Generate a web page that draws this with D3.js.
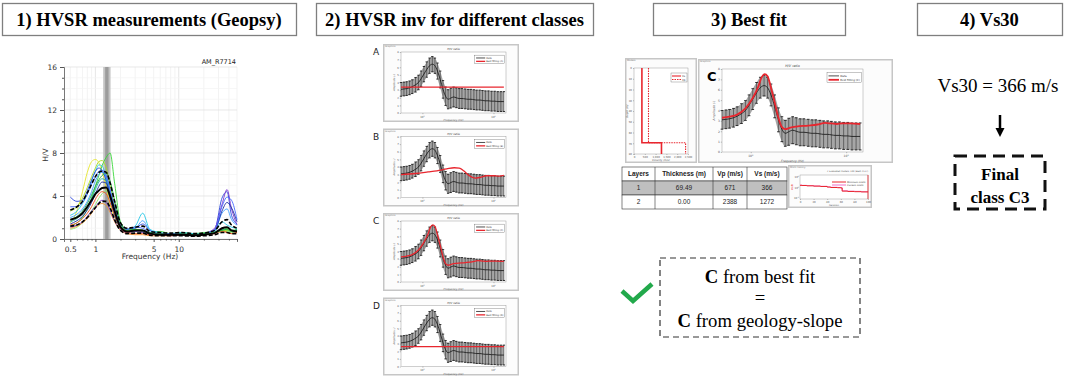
<!DOCTYPE html>
<meta charset="utf-8">
<style>
body { margin: 0; background: #fff; }
svg { display: block; }
text { font-family: "DejaVu Sans", sans-serif; }
.title { font: bold 18.5px "Liberation Serif", serif; }
.big { font: 18.7px "Liberation Serif", serif; }
.bigb { font: bold 17px "Liberation Serif", serif; }
.cell { font-family: "Liberation Sans", sans-serif; font-size: 6.5px; fill: #222; }
</style>
<body>
<script src="https://d3js.org/d3.v7.min.js"></script>
<script>

// ---------- data ----------
const titles = ["1) HVSR measurements (Geopsy)", "2) HVSR inv for different classes", "3) Best fit", "4) Vs30"];

// 1) Geopsy H/V curves
const geoFreq = [0.5,0.6,0.7,0.8,0.9,1.0,1.1,1.2,1.35,1.5,1.7,2.0,2.4,3.0,3.7,4.5,6,8,11,15,20,27,33,38,43,50];
const geoCurves = [
  [1.5,2.6,4.4,6.2,7.2,7.4,7.1,6.3,4.8,3.2,1.8,1.0,0.8,0.8,0.7,0.6,0.5,0.5,0.5,0.4,0.5,0.6,0.8,0.9,0.7,0.8],
  [1.2,1.5,2.0,2.8,3.8,4.9,5.9,6.8,7.6,8.0,5.2,1.6,0.9,0.9,0.8,0.6,0.7,0.5,0.6,0.5,0.6,0.7,0.8,1.0,0.8,0.9],
  [2.2,2.6,3.3,4.2,5.4,6.3,6.9,6.8,5.6,3.8,2.2,1.1,0.9,1.2,2.4,0.9,0.6,0.5,0.6,0.5,0.5,0.7,1.6,1.3,1.1,1.0],
  [3.9,3.5,3.6,4.5,5.5,6.3,6.6,6.4,5.4,3.9,2.2,1.2,0.9,1.0,1.4,0.8,0.5,0.4,0.4,0.4,0.5,0.9,3.8,4.4,2.2,1.4],
  [0.9,1.1,1.5,2.0,2.6,3.2,3.8,4.2,4.5,4.0,2.8,1.3,0.8,0.7,0.6,0.5,0.4,0.4,0.5,0.4,0.5,0.6,0.7,0.7,0.6,0.7],
  [1.0,1.2,1.5,1.9,2.4,2.9,3.2,3.3,3.1,2.5,1.6,0.8,0.5,0.4,0.4,0.3,0.3,0.3,0.4,0.3,0.4,0.6,0.9,0.6,0.5,0.6],
  [1.1,1.3,1.6,2.1,2.6,3.0,3.4,3.6,3.4,2.7,1.7,0.9,0.6,0.7,0.6,0.4,0.4,0.3,0.4,0.3,0.5,1.0,3.2,4.6,2.8,1.3],
  [1.6,1.9,2.4,3.0,3.8,4.6,5.3,5.6,5.4,4.4,2.9,1.3,0.8,0.9,0.8,0.6,0.5,0.4,0.5,0.4,0.5,0.6,0.9,0.8,0.7,0.9],
  [2.0,2.3,2.8,3.5,4.4,5.4,6.0,6.2,5.8,4.5,3.0,1.3,0.9,1.0,1.7,0.8,0.5,0.4,0.5,0.4,0.5,0.8,2.4,2.8,1.8,1.3],
  [1.4,1.7,2.1,2.7,3.4,4.2,4.9,5.3,5.2,4.2,2.8,1.2,0.7,0.8,0.7,0.5,0.4,0.4,0.4,0.4,0.5,0.8,2.6,3.4,2.9,1.6],
  [1.3,1.5,1.9,2.4,3.0,3.7,4.2,4.4,4.2,3.4,2.2,1.0,0.6,0.5,0.5,0.4,0.4,0.3,0.4,0.3,0.4,0.5,0.7,0.6,0.5,0.6],
  [2.6,3.0,3.8,4.8,5.8,6.6,7.2,7.3,6.6,5.0,3.2,1.4,0.8,0.9,0.8,0.6,0.5,0.5,0.5,0.4,0.5,0.6,0.8,0.8,0.7,0.8],
  [3.0,3.0,3.4,4.2,5.1,5.8,6.3,6.4,5.9,4.6,3.0,1.4,0.9,1.1,1.0,0.6,0.5,0.5,0.5,0.4,0.5,0.8,3.0,3.9,3.6,1.8],
  [1.8,2.1,2.6,3.3,4.1,4.9,5.5,5.9,6.1,5.4,3.6,1.5,0.8,0.9,0.8,0.6,0.5,0.4,0.5,0.4,0.5,0.6,0.8,0.9,0.7,0.8]
];
const geoColors = ["#e6e62e","#39d639","#27c6e6","#2a46dc","#8ee86a","#f0902e","#7a36cc",
                   "#1fb0a0","#3a9cff","#1c2c9c","#ee5522","#a8dc22","#4468ff","#22a848"];
const geoMean  = [1.8,2.0,2.4,3.0,3.6,4.2,4.5,4.75,4.8,4.0,2.6,1.1,0.7,0.8,0.8,0.5,0.4,0.4,0.4,0.35,0.4,0.55,1.0,1.1,0.8,0.7];
const geoUpper = [2.7,3.0,3.5,4.3,5.1,5.8,6.2,6.3,6.2,5.2,3.5,1.5,1.0,1.1,1.2,0.7,0.6,0.55,0.6,0.5,0.55,0.8,1.6,1.8,1.3,1.0];
const geoLower = [1.2,1.3,1.6,2.0,2.5,2.9,3.3,3.5,3.5,2.9,1.8,0.8,0.5,0.55,0.55,0.35,0.3,0.3,0.3,0.25,0.3,0.4,0.6,0.6,0.5,0.5];
const peakBand = [1.24, 1.52];

// 2) inversion: observed H/V (mean, std) and model curves per class
const invFreq = [0.5,0.55,0.6,0.66,0.72,0.8,0.88,0.96,1.05,1.15,1.26,1.38,1.5,1.63,1.78,1.95,2.12,2.3,2.5,
                 2.75,3.0,3.3,3.6,4.0,4.4,4.8,5.3,5.8,6.4,7.0,7.7,8.5,9.4,10.4,11.5,12.7,14.0];
const invMean = [3.1,3.15,3.2,3.3,3.45,3.7,4.0,4.5,5.1,5.7,6.2,6.4,6.2,5.5,4.4,3.1,2.2,1.8,1.95,
                 2.1,2.0,1.9,1.9,1.85,1.8,1.8,1.75,1.7,1.7,1.65,1.6,1.6,1.55,1.55,1.5,1.5,1.5];
const invStd  = [0.9,0.9,0.9,0.9,0.9,0.95,0.95,1.0,1.0,1.0,1.0,1.0,1.0,1.05,1.1,1.15,1.2,1.25,1.3,
                 1.3,1.3,1.3,1.3,1.3,1.3,1.3,1.3,1.3,1.3,1.3,1.3,1.3,1.3,1.3,1.3,1.3,1.3];
const classes = ["A","B","C","D"];
const modelFreq = [
  [0.5, 14],
  [0.5,0.8,1.2,1.6,2.2,2.8,3.3,3.8,4.5,5.5,6.5,8,10,12,14],
  [0.5,0.6,0.72,0.88,1.05,1.2,1.3,1.4,1.5,1.63,1.78,1.95,2.12,2.3,2.6,3,4,5,6,7,8,9,11,14],
  [0.5, 14]
];
const modelHV = [
  [3.4, 3.4],
  [3.0,3.15,3.35,3.5,3.75,3.9,3.85,3.5,2.9,2.55,2.65,2.85,2.85,2.8,2.9],
  [3.3,3.4,3.6,4.2,5.2,6.3,7.2,7.5,7.3,6.2,4.8,3.3,2.4,2.2,2.35,2.45,2.55,2.65,2.8,2.75,2.7,2.75,2.75,2.7],
  [2.6, 2.6]
];

// 3) best-fit model
const tableHead = ["Layers", "Thickness (m)", "Vp (m/s)", "Vs (m/s)"];
const layerNo = ["1", "2"];
const thickness = ["69.49", "0.00"];
const vpLayer = [671, 2388];
const vsLayer = [366, 1272];
const misfitIter = [0,3,10,20,30,40,45,55,60,62,70,80,90,100];
const misfitMin  = [1.6,1.55,1.45,1.35,1.25,1.1,1.0,0.95,0.9,0.45,0.42,0.4,0.38,0.37];
const misfitCur  = [1.7,1.6,1.5,1.4,1.3,1.15,1.05,1.0,0.95,0.5,0.45,0.43,0.4,0.4];

// 4) Vs30
const vs30 = 366;
const finalClass = "C3";

// ---------- drawing ----------
const width = 1065, height = 377;
const svg = d3.select("body").append("svg").attr("width", width).attr("height", height);

const titleX = [[2, 296], [316, 593], [653, 845], [917, 1062]];
titles.forEach((t, i) => {
  const [a, b] = titleX[i];
  svg.append("rect").attr("x", a + 0.5).attr("y", 3.5).attr("width", b - a).attr("height", 32)
     .attr("fill", "#fff").attr("stroke", "#7f7f7f").attr("stroke-width", 1.3);
  svg.append("text").attr("class", "title").attr("x", (a + b) / 2).attr("y", 26)
     .attr("text-anchor", "middle").text(t);
});

// ----- panel 1 : Geopsy -----
function geopsy() {
  const x = d3.scaleLog().domain([0.42, 50]).range([64, 237]);
  const y = d3.scaleLinear().domain([0, 16]).range([239, 67]);
  const g = svg.append("g");

  g.append("g").selectAll("line").data(x.ticks()).join("line")
    .attr("x1", d => x(d)).attr("x2", d => x(d)).attr("y1", 67).attr("y2", 239)
    .attr("stroke", d => [1, 10].includes(d) ? "#dcdcdc" : "#eeeeee").attr("stroke-width", 0.7);
  g.append("g").selectAll("line").data(y.ticks(16)).join("line")
    .attr("x1", 64).attr("x2", 237).attr("y1", d => y(d)).attr("y2", d => y(d))
    .attr("stroke", d => d % 4 ? "#f3f3f3" : "#dedede").attr("stroke-width", 0.7);

  g.append("rect").attr("x", x(peakBand[0])).attr("width", x(peakBand[1]) - x(peakBand[0]))
    .attr("y", 67).attr("height", 172).attr("fill", "#c4c4c4");
  g.append("rect").attr("x", x(peakBand[0]) + 2).attr("width", x(peakBand[1]) - x(peakBand[0]) - 4)
    .attr("y", 67).attr("height", 172).attr("fill", "#9c9c9c");

  const line = d3.line().x((d, i) => x(geoFreq[i])).y(d => y(d)).curve(d3.curveMonotoneX);
  g.append("g").attr("fill", "none").attr("stroke-width", 1).attr("stroke-opacity", 0.9)
    .selectAll("path").data(geoCurves).join("path")
      .attr("d", line).attr("stroke", (d, i) => geoColors[i]);
  g.append("path").attr("d", line(geoMean)).attr("fill", "none").attr("stroke", "#000").attr("stroke-width", 2);
  [geoUpper, geoLower].forEach(c => g.append("path").attr("d", line(c)).attr("fill", "none")
    .attr("stroke", "#000").attr("stroke-width", 1.6).attr("stroke-dasharray", "4,2"));

  // axes
  const ya = g.append("g").attr("transform", "translate(64,0)")
    .call(d3.axisLeft(y).ticks(16).tickSize(4).tickFormat(d => d % 4 ? "" : d));
  ya.selectAll(".tick line").attr("x2", d => d % 4 ? -2 : -4);
  const xa = g.append("g").attr("transform", "translate(0,239)")
    .call(d3.axisBottom(x).tickValues(x.ticks()).tickSize(3)
      .tickFormat(d => [0.5, 1, 5, 10].includes(d) ? d : ""));
  xa.selectAll(".tick line").attr("y2", d => [0.5, 1, 5, 10].includes(d) ? 3 : 1.5);
  [ya, xa].forEach(a => {
    a.select(".domain").attr("stroke", "#555").attr("stroke-width", 0.8);
    a.selectAll(".tick line").attr("stroke", "#555");
    a.selectAll("text").attr("font-size", 7.5).attr("fill", "#333");
  });
  xa.selectAll("text").attr("dy", "0.95em");

  g.append("text").attr("transform", "translate(48,155) rotate(-90)").attr("text-anchor", "middle")
    .attr("font-size", 7.5).attr("fill", "#333").text("H/V");
  g.append("text").attr("x", 150).attr("y", 259).attr("text-anchor", "middle")
    .attr("font-size", 7.5).attr("fill", "#333").text("Frequency (Hz)");
  g.append("text").attr("x", 236).attr("y", 64).attr("text-anchor", "end")
    .attr("font-size", 6.5).attr("fill", "#222").text("AM_R7714");
}
geopsy();

// ----- H/V inversion window -----
function hvWindow(fx, fy, fw, fh, m, k, fs, lw) {
  const g = svg.append("g").attr("transform", `translate(${fx},${fy})`);
  g.append("rect").attr("x", 0.75).attr("y", 0.75).attr("width", fw - 1.5).attr("height", fh - 1.5)
    .attr("fill", "#fcfcfc").attr("stroke", "#c6c6c6").attr("stroke-width", 1.5);
  g.append("text").attr("x", 2).attr("y", 3).attr("font-size", 2.4).attr("fill", "#777").text("Graphics");

  const x = d3.scaleLog().domain([0.5, 15]).range([m.l, fw - m.r]);
  const y = d3.scaleLinear().domain([0, 8]).range([fh - m.b, m.t]);
  g.append("rect").attr("x", m.l).attr("y", m.t).attr("width", fw - m.l - m.r).attr("height", fh - m.t - m.b)
    .attr("fill", "#fff").attr("stroke", "#888").attr("stroke-width", 0.4);

  const pts = invFreq.map((f, i) => ({ f, m: invMean[i], s: invStd[i] }));
  g.append("path").datum(pts).attr("fill", "#a6a6a6")
    .attr("d", d3.area().x(d => x(d.f)).y0(d => y(d.m - d.s)).y1(d => y(d.m + d.s)).curve(d3.curveMonotoneX));
  const eb = g.append("g").attr("stroke", "#1c1c1c").attr("stroke-width", 0.5);
  eb.selectAll(".v").data(pts).join("line").attr("class", "v")
    .attr("x1", d => x(d.f)).attr("x2", d => x(d.f)).attr("y1", d => y(d.m - d.s)).attr("y2", d => y(d.m + d.s));
  const cw = fs * 0.45;
  ["u", "l"].forEach(side => {
    const yv = d => y(side === "u" ? d.m + d.s : d.m - d.s);
    eb.selectAll(".c" + side).data(pts).join("line").attr("class", "c" + side)
      .attr("x1", d => x(d.f) - cw).attr("x2", d => x(d.f) + cw)
      .attr("y1", yv).attr("y2", yv).attr("stroke-width", 0.9);
  });
  const ln = d3.line().x(d => x(d.f)).y(d => y(d.v)).curve(d3.curveMonotoneX);
  g.append("path").attr("d", ln(pts.map(d => ({ f: d.f, v: d.m }))))
    .attr("fill", "none").attr("stroke", "#111").attr("stroke-width", 0.8);
  g.append("path").attr("d", ln(modelFreq[k].map((f, i) => ({ f, v: modelHV[k][i] }))))
    .attr("fill", "none").attr("stroke", "#e8262e").attr("stroke-width", lw);

  // ticks
  const ay = g.append("g").attr("transform", `translate(${m.l},0)`)
    .call(d3.axisLeft(y).ticks(8).tickSize(1.2).tickPadding(1));
  const ax = g.append("g").attr("transform", `translate(0,${fh - m.b})`)
    .call(d3.axisBottom(x).tickValues([1, 10]).tickSize(1.2).tickFormat(""));
  [ay, ax].forEach(a => {
    a.select(".domain").remove();
    a.selectAll("line").attr("stroke", "#666").attr("stroke-width", 0.4);
    a.selectAll("text").attr("font-size", fs).attr("fill", "#555");
  });
  [1, 10].forEach((v, i) => {
    const t = g.append("text").attr("x", x(v)).attr("y", fh - m.b + fs * 1.8)
      .attr("text-anchor", "middle").attr("font-size", fs).attr("fill", "#555").text("10");
    t.append("tspan").attr("font-size", fs * 0.7).attr("dy", -fs * 0.4).text(i);
  });
  const cx = (m.l + fw - m.r) / 2;
  g.append("text").attr("x", cx).attr("y", m.t - fs * 0.6).attr("text-anchor", "middle")
    .attr("font-size", fs * 1.1).attr("font-family", "Liberation Serif").attr("font-style", "italic")
    .attr("fill", "#333").text("H/V ratio");
  g.append("text").attr("x", cx).attr("y", fh - m.b + fs * 3.2).attr("text-anchor", "middle")
    .attr("font-size", fs).attr("font-style", "italic").attr("fill", "#555").text("Frequency (Hz)");
  g.append("text").attr("transform", `translate(${m.l - fs * 2.4},${(m.t + fh - m.b) / 2}) rotate(-90)`)
    .attr("text-anchor", "middle").attr("font-size", fs).attr("font-style", "italic")
    .attr("fill", "#555").text("Amplitude (-)");

  // legend
  const lx = fw - m.r - fs * 12, ly = m.t + fs * 1.2;
  const lg = g.append("g").attr("transform", `translate(${lx},${ly})`);
  lg.append("rect").attr("width", fs * 11.4).attr("height", fs * 3.3)
    .attr("fill", "#fff").attr("stroke", "#444").attr("stroke-width", 0.3);
  [["#222", "Data"], ["#e8262e", "Best fitting (" + classes[k] + ")"]].forEach(([c, t], i) => {
    const yy = fs * (1.1 + i * 1.3);
    lg.append("line").attr("x1", fs * 0.5).attr("x2", fs * 4).attr("y1", yy).attr("y2", yy)
      .attr("stroke", c).attr("stroke-width", i ? lw : 0.8);
    lg.append("text").attr("x", fs * 4.4).attr("y", yy + fs * 0.35).attr("font-size", fs * 0.9)
      .attr("fill", "#333").text(t);
  });
  return g;
}

const frameY = [44, 128.5, 213, 297.5];
classes.forEach((c, k) => {
  hvWindow(383, frameY[k], 136, 78, { l: 18, r: 13, t: 8, b: 9 }, k, 2.6, 1.3);
  svg.append("text").attr("x", 373).attr("y", frameY[k] + 11).attr("font-size", 9)
    .attr("font-family", "Liberation Sans").attr("fill", "#222").text(c);
});

// ----- panel 3 : best fit -----
const big = hvWindow(698, 59, 195, 104, { l: 24, r: 30, t: 10, b: 11 }, 2, 3, 1.8);
big.append("text").attr("x", 9).attr("y", 22).attr("font-size", 13).attr("font-weight", "bold")
  .attr("font-family", "Liberation Sans").attr("fill", "#000").text("C");

// model profile window
function profile() {
  const g = svg.append("g").attr("transform", "translate(625,58)");
  const fw = 72, fh = 105;
  g.append("rect").attr("x", 0.75).attr("y", 0.75).attr("width", fw - 1.5).attr("height", fh - 1.5)
    .attr("fill", "#fcfcfc").attr("stroke", "#c6c6c6").attr("stroke-width", 1.5);
  g.append("text").attr("x", 2).attr("y", 3).attr("font-size", 2.4).attr("fill", "#777").text("Models");
  const x = d3.scaleLinear().domain([0, 2500]).range([9, 63]);
  const y = d3.scaleLinear().domain([0, 80]).range([10, 96]);
  g.append("rect").attr("x", 9).attr("y", 10).attr("width", 54).attr("height", 86)
    .attr("fill", "#fff").attr("stroke", "#888").attr("stroke-width", 0.4);
  const depth = [0, +thickness[0], +thickness[0], 80];
  const stepPts = v => depth.map((d, i) => [v[i < 2 ? 0 : 1], d]);
  const ln = d3.line().x(d => x(d[0])).y(d => y(d[1]));
  g.append("path").attr("d", ln(stepPts(vpLayer))).attr("fill", "none").attr("stroke", "#e8262e")
    .attr("stroke-width", 1.1).attr("stroke-dasharray", "1.5,1");
  g.append("path").attr("d", ln(stepPts(vsLayer))).attr("fill", "none").attr("stroke", "#e8262e")
    .attr("stroke-width", 1.6);
  const ay = g.append("g").attr("transform", "translate(9,0)")
    .call(d3.axisLeft(y).ticks(8).tickSize(1).tickPadding(1));
  const ax = g.append("g").attr("transform", "translate(0,96)")
    .call(d3.axisBottom(x).ticks(5).tickSize(1).tickPadding(1));
  [ay, ax].forEach(a => {
    a.select(".domain").remove();
    a.selectAll("line").attr("stroke", "#666").attr("stroke-width", 0.4);
    a.selectAll("text").attr("font-size", 2.6).attr("fill", "#555");
  });
  g.append("text").attr("x", 36).attr("y", 103).attr("text-anchor", "middle").attr("font-size", 2.6)
    .attr("fill", "#555").attr("font-style", "italic").text("Velocity (m/s)");
  g.append("text").attr("transform", "translate(3,53) rotate(-90)").attr("text-anchor", "middle")
    .attr("font-size", 2.6).attr("fill", "#555").attr("font-style", "italic").text("Depth (m)");
  const lg = g.append("g").attr("transform", "translate(46,15)");
  lg.append("rect").attr("width", 16).attr("height", 9).attr("fill", "#fff").attr("stroke", "#444").attr("stroke-width", 0.3);
  [["", "Vs"], ["1.5,1", "Vp"]].forEach(([da, t], i) => {
    lg.append("line").attr("x1", 1).attr("x2", 10).attr("y1", 3 + i * 3.5).attr("y2", 3 + i * 3.5)
      .attr("stroke", "#e8262e").attr("stroke-width", 1.1).attr("stroke-dasharray", da || null);
    lg.append("text").attr("x", 11).attr("y", 4 + i * 3.5).attr("font-size", 2.6).attr("fill", "#333").text(t);
  });
}
profile();

// table
function table() {
  const colX = [622, 655, 713, 747, 787], rowY = [167, 181, 195, 209];
  const rows = [tableHead].concat(layerNo.map((l, i) => [l, thickness[i], vpLayer[i], vsLayer[i]]));
  const g = svg.append("g");
  rows.forEach((r, ri) => {
    g.append("rect").attr("x", colX[0]).attr("y", rowY[ri]).attr("width", colX[4] - colX[0])
      .attr("height", rowY[ri + 1] - rowY[ri]).attr("fill", ri === 1 ? "#bfbfbf" : "#fff")
      .attr("stroke", "#333").attr("stroke-width", 0.6);
    r.forEach((v, ci) => {
      g.append("text").attr("class", "cell")
        .attr("x", (colX[ci] + colX[ci + 1]) / 2).attr("y", (rowY[ri] + rowY[ri + 1]) / 2 + 2.3)
        .attr("text-anchor", "middle").style("font-weight", ri === 0 ? "bold" : "normal")
        .text(String(v));
    });
  });
  g.selectAll("line").data(colX.slice(1, 4)).join("line")
    .attr("x1", d => d).attr("x2", d => d).attr("y1", rowY[0]).attr("y2", rowY[3])
    .attr("stroke", "#333").attr("stroke-width", 0.6);
}
table();

// misfit history
function misfit() {
  const g = svg.append("g").attr("transform", "translate(788,165)");
  const fw = 84, fh = 43;
  g.append("rect").attr("x", 0.75).attr("y", 0.75).attr("width", fw - 1.5).attr("height", fh - 1.5)
    .attr("fill", "#fcfcfc").attr("stroke", "#c6c6c6").attr("stroke-width", 1.5);
  g.append("text").attr("x", 2).attr("y", 3).attr("font-size", 2.4).attr("fill", "#777").text("Misfit history");
  g.append("text").attr("x", 80).attr("y", 7).attr("text-anchor", "end").attr("font-size", 2.2)
    .attr("fill", "#555").text("# Evaluated models: 100 (Best: 0.37)");
  const x = d3.scaleLinear().domain([0, 100]).range([12, 80]);
  const y = d3.scaleLog().domain([0.1, 10]).range([33, 12]);
  g.append("rect").attr("x", 12).attr("y", 10).attr("width", 68).attr("height", 24)
    .attr("fill", "#fff").attr("stroke", "#888").attr("stroke-width", 0.4);
  const ln = d3.line().x((d, i) => x(misfitIter[i])).y(d => y(d)).curve(d3.curveStepAfter);
  g.append("path").attr("d", ln(misfitCur)).attr("fill", "none").attr("stroke", "#f06ec8").attr("stroke-width", 0.8);
  g.append("path").attr("d", ln(misfitMin)).attr("fill", "none").attr("stroke", "#e8262e").attr("stroke-width", 1);
  g.append("line").attr("x1", x(100)).attr("x2", x(100)).attr("y1", 10).attr("y2", 34)
    .attr("stroke", "#e8262e").attr("stroke-width", 0.8);
  const ax = g.append("g").attr("transform", "translate(0,34)")
    .call(d3.axisBottom(x).ticks(5).tickSize(1).tickPadding(0.8));
  ax.select(".domain").remove();
  ax.selectAll("line").attr("stroke", "#666").attr("stroke-width", 0.4);
  ax.selectAll("text").attr("font-size", 2.6).attr("fill", "#555");
  [0.1, 1, 10].forEach((v, i) => {
    const t = g.append("text").attr("x", 11).attr("y", y(v) + 1).attr("text-anchor", "end")
      .attr("font-size", 2.6).attr("fill", "#555").text("10");
    t.append("tspan").attr("font-size", 1.8).attr("dy", -1).text(i - 1);
  });
  g.append("text").attr("x", 46).attr("y", 40.5).attr("text-anchor", "middle").attr("font-size", 2.4)
    .attr("fill", "#555").text("Iteration");
  g.append("text").attr("transform", "translate(5,22) rotate(-90)").attr("text-anchor", "middle")
    .attr("font-size", 2.4).attr("fill", "#e8262e").text("Misfit");
  [["#e8262e", "Minimum misfit"], ["#f06ec8", "Current misfit"]].forEach(([c, t], i) => {
    g.append("line").attr("x1", 44).attr("x2", 58).attr("y1", 17 + i * 3).attr("y2", 17 + i * 3)
      .attr("stroke", c).attr("stroke-width", 1);
    g.append("text").attr("x", 59).attr("y", 18 + i * 3).attr("font-size", 2.4).attr("fill", "#333").text(t);
  });
}
misfit();

// check mark + comparison box
svg.append("path").attr("d", "M622,291 L633,301 L652,284").attr("fill", "none")
  .attr("stroke", "#22a94b").attr("stroke-width", 4.5).attr("stroke-linejoin", "miter");
svg.append("rect").attr("x", 660).attr("y", 258).attr("width", 200).attr("height", 79)
  .attr("fill", "none").attr("stroke", "#333").attr("stroke-width", 1.2).attr("stroke-dasharray", "6,4");
[["C", " from best fit", 283], ["", "=", 304], ["C", " from geology-slope", 327]].forEach(([b, r, yy]) => {
  const t = svg.append("text").attr("class", "big").attr("x", 760).attr("y", yy).attr("text-anchor", "middle");
  if (b) t.append("tspan").attr("font-weight", "bold").text(b);
  t.append("tspan").text(r);
});

// ----- panel 4 : Vs30 -----
svg.append("text").attr("class", "big").attr("x", 998).attr("y", 92).attr("text-anchor", "middle")
  .style("font-size", "19px").text(`Vs30 = ${vs30} m/s`);
svg.append("line").attr("x1", 1000).attr("x2", 1000).attr("y1", 115).attr("y2", 130)
  .attr("stroke", "#000").attr("stroke-width", 2.5);
svg.append("path").attr("d", "M995.5,128 L1004.5,128 L1000,137 Z").attr("fill", "#000");
svg.append("rect").attr("x", 955).attr("y", 156).attr("width", 90).attr("height", 53)
  .attr("fill", "none").attr("stroke", "#111").attr("stroke-width", 3).attr("stroke-dasharray", "12,7");
svg.append("text").attr("class", "bigb").attr("x", 1000).attr("y", 180).attr("text-anchor", "middle").text("Final");
svg.append("text").attr("class", "bigb").attr("x", 1000).attr("y", 203).attr("text-anchor", "middle")
  .text("class " + finalClass);

</script>
